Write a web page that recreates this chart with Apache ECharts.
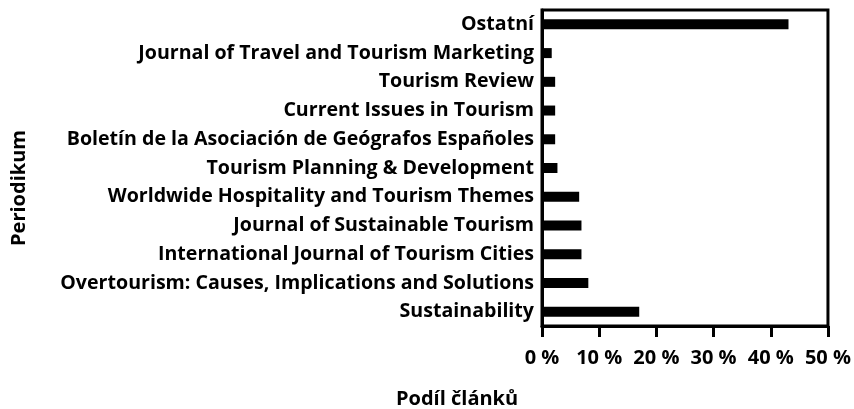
<!DOCTYPE html>
<html>
<head>
<meta charset="utf-8">
<script src="https://cdn.jsdelivr.net/npm/echarts@6/dist/echarts.min.js"></script>
<style>
  html, body { margin: 0; padding: 0; background: #fff; }
  #chart { width: 854px; height: 409px; }
</style>
</head>
<body>
<div id="chart"></div>
<script>
// casopisy odshora dolu
var journals = [
  'Ostatní',
  'Journal of Travel and Tourism Marketing',
  'Tourism Review',
  'Current Issues in Tourism',
  'Boletín de la Asociación de Geógrafos Españoles',
  'Tourism Planning & Development',
  'Worldwide Hospitality and Tourism Themes',
  'Journal of Sustainable Tourism',
  'International Journal of Tourism Cities',
  'Overtourism: Causes, Implications and Solutions',
  'Sustainability'
];
var shares = [43.1, 1.7, 2.3, 2.3, 2.3, 2.7, 6.5, 6.9, 6.9, 8.1, 17.0];

var font = '"Open Sans", sans-serif';
var chart = echarts.init(document.getElementById('chart'));

var option = {
  animation: false,
  grid: {
    left: 542,
    right: 25,
    top: 10,
    bottom: 83,
    show: true,
    borderColor: '#000',
    borderWidth: 3,
    containLabel: false
  },
  // nazvy os - umistene rucne
  graphic: [
    {
      type: 'text',
      left: 396,
      top: 389,
      style: { text: 'Podíl článků', font: 'bold 20px "Open Sans", sans-serif', fill: '#000' }
    },
    {
      type: 'text',
      x: 19,
      y: 188,
      rotation: Math.PI / 2,
      style: {
        text: 'Periodikum',
        font: 'bold 20px "Open Sans", sans-serif',
        fill: '#000',
        align: 'center',
        verticalAlign: 'middle'
      }
    }
  ],
  xAxis: {
    type: 'value',
    min: 0,
    max: 50,
    interval: 10,
    axisLine: { show: true, lineStyle: { color: '#000', width: 3 } },
    axisTick: { show: true, inside: false, length: 11, lineStyle: { color: '#000', width: 3 } },
    axisLabel: { formatter: '{value} %', fontFamily: font, fontWeight: 'bold', fontSize: 20, color: '#000', margin: 22 },
    splitLine: { show: false }
  },
  yAxis: {
    type: 'category',
    data: journals,
    inverse: true,
    axisLine: { show: true, lineStyle: { color: '#000', width: 3 } },
    axisTick: { show: false },
    axisLabel: { fontFamily: font, fontWeight: 'bold', fontSize: 19.6, color: '#000', margin: 8 }
  },
  series: [{
    type: 'bar',
    data: shares,
    barWidth: 10,
    itemStyle: { color: '#000' }
  }]
};
chart.setOption(option);
</script>
</body>
</html>
